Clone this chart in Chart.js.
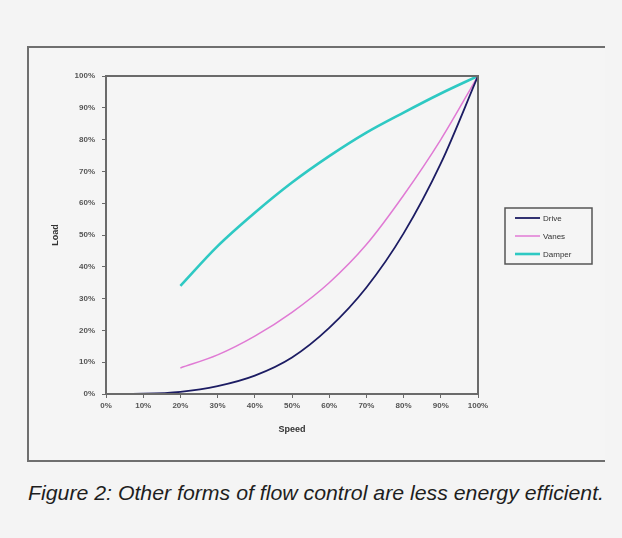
<!DOCTYPE html>
<html>
<head>
<meta charset="utf-8">
<script src="https://cdn.jsdelivr.net/npm/chart.js@4.4.0/dist/chart.umd.min.js"></script>
<style>
    html, body { margin: 0; padding: 0; background: #f4f4f4; }
    body { width: 622px; height: 538px; position: relative; overflow: hidden; font-family: "Liberation Sans", Arial, sans-serif; }
    #frame {
        position: absolute; left: 27px; top: 46px; width: 576px; height: 412px;
        border-left: 2px solid #6f6f6f; border-top: 2px solid #6f6f6f; border-bottom: 2px solid #6f6f6f;
        background: #f5f5f5;
    }
    #chart { position: absolute; left: 28px; top: 47px; }
    #caption {
        position: absolute; left: 28px; top: 482px; font-size: 21px; line-height: 21px;
        font-style: italic; color: #1e1e1e; white-space: nowrap; transform-origin: 0 0;
    }
</style>
</head>
<body>
<div id="frame"></div>
<canvas id="chart" width="576" height="413"></canvas>
<div id="caption">Figure 2: Other forms of flow control are less energy efficient.</div>
<script>
// Chart data
const speed = [0, 10, 20, 30, 40, 50, 60, 70, 80, 90, 100];
const drive = [0, 0.1, 0.7, 2.5, 5.8, 11.5, 20.8, 33.5, 50.5, 72.5, 100];
const vanes = [null, null, 8.2, 12.3, 18.2, 25.7, 35, 47, 62.5, 80, 100];
const damper = [null, null, 34, 46.5, 57, 66.5, 74.8, 82.2, 88.5, 94.5, 100];
const seriesNames = ['Drive', 'Vanes', 'Damper'];
const seriesColors = ['#1c1c63', '#e07ad4', '#2ec9c3'];
const seriesWidths = [1.8, 1.5, 2.6];

const axisColor = '#6a6a6a';
const tickFont = { family: '"Liberation Sans", Arial, sans-serif', size: 8, weight: 'bold' };
const titleFont = { family: '"Liberation Sans", Arial, sans-serif', size: 9, weight: 'bold' };

function toPoints(values) {
    return speed.map((s, i) => ({ x: s, y: values[i] }));
}

// Plot border and the boxed legend on the right, Excel style
const excelDecor = {
    id: 'excelDecor',
    afterDraw(chart) {
        const ctx = chart.ctx;
        const a = chart.chartArea;
        ctx.save();
        ctx.strokeStyle = axisColor;
        ctx.lineWidth = 2;
        ctx.strokeRect(a.left, a.top, a.right - a.left, a.bottom - a.top);

        // legend box
        const lx = 477, ly = 161, lw = 87, lh = 56;
        ctx.lineWidth = 1.5;
        ctx.strokeStyle = '#555';
        ctx.strokeRect(lx, ly, lw, lh);
        ctx.font = '8px "Liberation Sans", Arial, sans-serif';
        ctx.textBaseline = 'middle';
        chart.data.datasets.forEach((ds, i) => {
            const y = ly + 10 + i * 18;
            ctx.strokeStyle = ds.borderColor;
            ctx.lineWidth = ds.borderWidth;
            ctx.beginPath();
            ctx.moveTo(lx + 10, y);
            ctx.lineTo(lx + 35, y);
            ctx.stroke();
            ctx.fillStyle = '#333';
            ctx.fillText(ds.label, lx + 38, y + 0.5);
        });
        ctx.restore();
    }
};

const datasets = [drive, vanes, damper].map((values, i) => ({
    label: seriesNames[i],
    data: toPoints(values),
    borderColor: seriesColors[i],
    backgroundColor: seriesColors[i],
    borderWidth: seriesWidths[i],
    pointRadius: 0,
    cubicInterpolationMode: 'monotone',
    spanGaps: false
}));

new Chart(document.getElementById('chart'), {
    type: 'line',
    data: { datasets },
    options: {
        responsive: false,
        animation: false,
        layout: { padding: { left: 18, top: 29, right: 126, bottom: 21 } },
        plugins: { legend: { display: false }, tooltip: { enabled: false } },
        scales: {
            x: {
                type: 'linear', min: 0, max: 100,
                ticks: { stepSize: 10, callback: v => v + '%', font: tickFont, color: '#555', padding: 3, maxRotation: 0 },
                grid: { display: true, drawOnChartArea: false, drawTicks: true, tickLength: 4, color: axisColor },
                border: { display: true, color: axisColor, width: 2 },
                title: { display: true, text: 'Speed', font: titleFont, color: '#333', padding: { top: 2, bottom: 4 } },
                afterFit: s => { s.height = 45; }
            },
            y: {
                min: 0, max: 100,
                ticks: { stepSize: 10, callback: v => v + '%', font: tickFont, color: '#555', padding: 7 },
                grid: { display: true, drawOnChartArea: false, drawTicks: true, tickLength: 4, color: axisColor },
                border: { display: true, color: axisColor, width: 2 },
                title: { display: true, text: 'Load', font: titleFont, color: '#333', padding: 4 },
                afterFit: s => { s.width = 60; }
            }
        }
    },
    plugins: [excelDecor]
});

// squeeze the caption to the width it spans in the figure
const caption = document.getElementById('caption');
const w = caption.getBoundingClientRect().width;
caption.style.transform = 'scaleX(' + (576 / w) + ')';
</script>
</body>
</html>
